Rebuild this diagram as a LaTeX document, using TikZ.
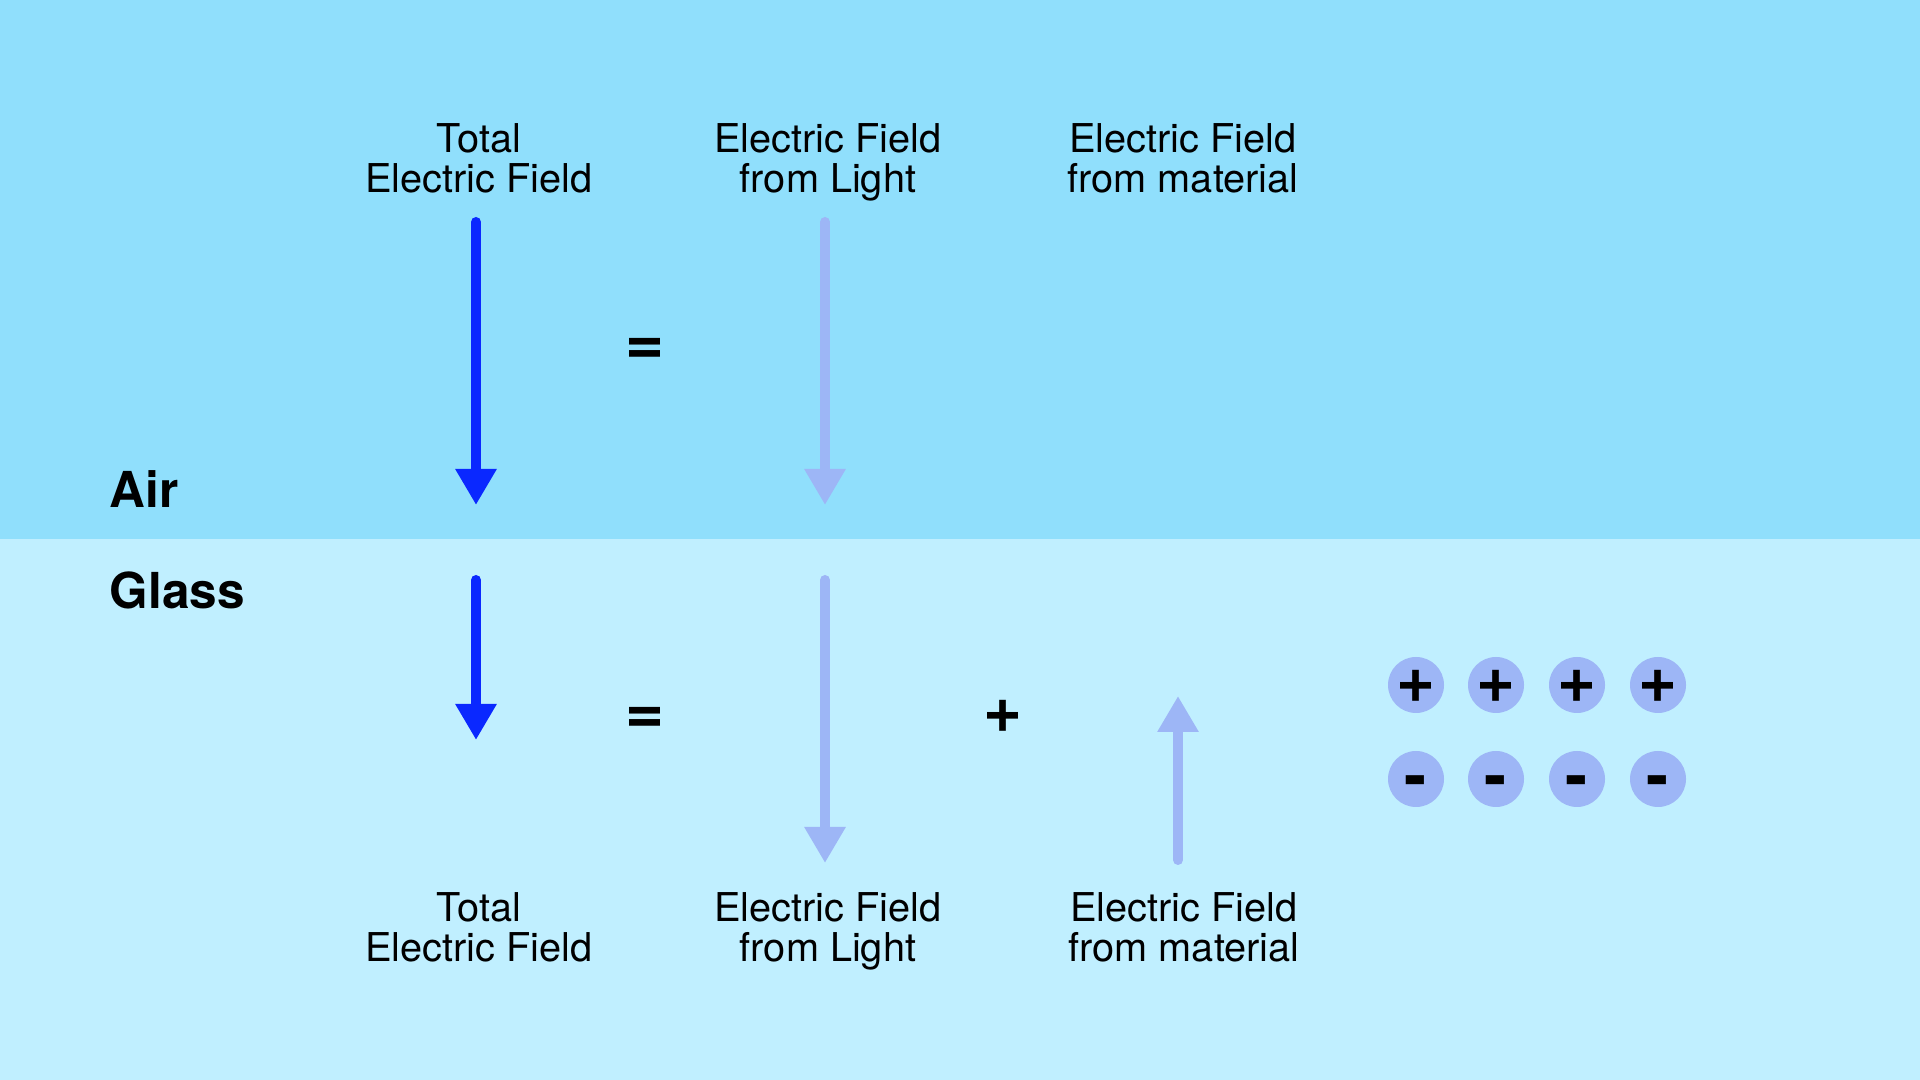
\documentclass[tikz,border=0pt]{standalone}
\usepackage{fontspec}
\setmainfont{TeX Gyre Heros}
\usetikzlibrary{positioning, arrows.meta, calc}

\definecolor{airblue}{RGB}{144,223,252}
\definecolor{glassblue}{RGB}{192,239,255}
\definecolor{totalblue}{RGB}{10,40,255}
\definecolor{paleblue}{RGB}{157,182,246}

\begin{document}
\begin{tikzpicture}[
    field/.style={
        -{Triangle[width=0.39cm, length=0.36cm]},
        line width=0.1cm,
        line cap=round
    },
    label/.style={
        align=center,
        inner sep=0pt,
        font=\fontsize{11.3}{11.4}\selectfont,
        execute at end node=\vphantom{g}
    },
    medium/.style={
        anchor=base west,
        inner sep=0pt,
        font=\fontsize{14.1}{16}\selectfont\bfseries
    },
    sign/.style={
        inner sep=0pt,
        font=\fontsize{19}{20}\selectfont\bfseries
    },
    charge/.style={
        circle,
        fill=paleblue,
        minimum size=0.56cm,
        inner sep=0pt
    }
]
    \useasboundingbox (0,0) rectangle (19.2,10.8);

    % Media
    \fill[airblue] (0,5.41) rectangle (19.2,10.8);
    \fill[glassblue] (0,0) rectangle (19.2,5.41);
    \node[medium] (air) at (1.09,5.72) {Air};
    \node[medium] (glass) at (1.09,4.71) {Glass};

    % Labels in air
    \node[label] (tot1) at (4.79,9.175) {Total\\Electric Field};
    \node[label] (light1) at (8.28,9.175) {Electric Field\\from Light};
    \node[label] (mat1) at (11.83,9.175) {Electric Field\\from material};

    % Labels in glass
    \node[label] (tot2) at (4.79,1.485) {Total\\Electric Field};
    \node[label] (light2) at (8.28,1.485) {Electric Field\\from Light};
    \node[label] (mat2) at (11.84,1.485) {Electric Field\\from material};

    % Arrow ends
    \coordinate (ta1) at (4.76,8.58);
    \coordinate (tb1) at (4.76,5.75);
    \coordinate (la1) at (8.25,8.58);
    \coordinate (lb1) at (8.25,5.75);
    \coordinate (ta2) at (4.76,5.00);
    \coordinate (tb2) at (4.76,3.40);
    \coordinate (la2) at (8.25,5.00);
    \coordinate (lb2) at (8.25,2.17);
    \coordinate (ma2) at (11.78,2.20);
    \coordinate (mb2) at (11.78,3.84);

    \draw[field, totalblue] (ta1) -- (tb1);
    \draw[field, paleblue] (la1) -- (lb1);
    \draw[field, totalblue] (ta2) -- (tb2);
    \draw[field, paleblue] (la2) -- (lb2);
    \draw[field, paleblue] (ma2) -- (mb2);

    % Signs
    \node[sign] (eq1) at (6.45,7.29) {=};
    \node[sign] (eq2) at (6.45,3.60) {=};
    \node[sign] (plus) at (10.03,3.64) {+};

    % Charges
    \foreach \i/\x in {1/14.16, 2/14.96, 3/15.77, 4/16.58} {
        \node[charge] (p\i) at (\x,3.95) {};
        \node[sign, yshift=-0.015cm] (ps\i) at (p\i) {+};
        \node[charge] (m\i) at (\x,3.01) {};
        \node[sign, yshift=-0.085cm] (ms\i) at (m\i) {-};
    }
\end{tikzpicture}
\end{document}
